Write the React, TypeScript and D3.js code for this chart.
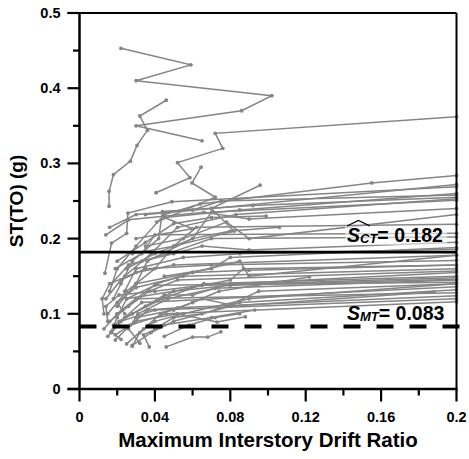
import React from "react";
import * as d3 from "d3";

// IDA curves: [drift ratio, ST(T0) in g]
const idaCurves: [number, number][][] = [
  [[0.022,0.453],[0.059,0.431],[0.030,0.410],[0.102,0.390],[0.086,0.370],[0.030,0.350],[0.065,0.330]],
  [[0.046,0.384],[0.032,0.363],[0.036,0.344],[0.0305,0.324],[0.027,0.303],[0.018,0.285],[0.0157,0.263],[0.0157,0.243]],
  [[0.0406,0.261],[0.0586,0.281],[0.052,0.301],[0.076,0.320],[0.072,0.340],[0.2,0.362]],
  [[0.041,0.222],[0.072,0.255],[0.0597,0.274],[0.0645,0.295]],
  [[0.035,0.232],[0.070,0.240],[0.0958,0.271]],
  [[0.0135,0.154],[0.017,0.194],[0.025,0.207],[0.0257,0.234],[0.049,0.249],[0.2,0.269]],
  [[0.016,0.13],[0.02,0.16],[0.03,0.19],[0.045,0.232],[0.064,0.246],[0.155,0.274],[0.2,0.284]],
  [[0.018,0.12],[0.024,0.15],[0.038,0.18],[0.052,0.215],[0.083,0.232],[0.2,0.253]],
  [[0.02,0.11],[0.03,0.14],[0.036,0.17],[0.06,0.2],[0.07,0.235],[0.2,0.251]],
  [[0.022,0.14],[0.028,0.17],[0.042,0.2],[0.044,0.236],[0.092,0.244],[0.2,0.255]],
  [[0.015,0.1],[0.025,0.13],[0.04,0.16],[0.05,0.19],[0.062,0.215],[0.2,0.219]],
  [[0.019,0.16],[0.033,0.18],[0.04,0.205],[0.2,0.207]],
  [[0.017,0.14],[0.026,0.165],[0.047,0.18],[0.07,0.2],[0.2,0.202]],
  [[0.024,0.13],[0.03,0.16],[0.055,0.175],[0.085,0.18],[0.2,0.186]],
  [[0.014,0.12],[0.022,0.145],[0.035,0.16],[0.07,0.165],[0.2,0.171]],
  [[0.02,0.10],[0.03,0.12],[0.041,0.14],[0.06,0.155],[0.09,0.158],[0.2,0.165]],
  [[0.016,0.09],[0.026,0.11],[0.037,0.13],[0.052,0.145],[0.2,0.157]],
  [[0.018,0.085],[0.028,0.1],[0.044,0.12],[0.066,0.14],[0.2,0.15]],
  [[0.021,0.09],[0.035,0.11],[0.05,0.13],[0.08,0.138],[0.2,0.146]],
  [[0.017,0.075],[0.024,0.095],[0.033,0.115],[0.2,0.136]],
  [[0.013,0.08],[0.02,0.1],[0.03,0.12],[0.2,0.128]],
  [[0.015,0.07],[0.022,0.09],[0.04,0.105],[0.2,0.12]],
  [[0.019,0.065],[0.027,0.085],[0.046,0.1],[0.2,0.116]],
  [[0.025,0.06],[0.034,0.08],[0.043,0.1],[0.06,0.115],[0.074,0.13],[0.122,0.149]],
  [[0.028,0.058],[0.038,0.075],[0.05,0.09],[0.08,0.11],[0.188,0.129]],
  [[0.046,0.056],[0.06,0.069],[0.068,0.069],[0.075,0.076]],
  [[0.022,0.066],[0.0167,0.076],[0.02,0.095],[0.025,0.12],[0.04,0.138],[0.2,0.142]],
  [[0.028,0.057],[0.032,0.075],[0.04,0.09],[0.055,0.1],[0.09,0.12],[0.2,0.14]],
  [[0.037,0.056],[0.034,0.072],[0.045,0.085],[0.07,0.095],[0.093,0.105]],
  [[0.032,0.061],[0.026,0.08],[0.031,0.1],[0.047,0.12],[0.072,0.134],[0.2,0.145]],
  [[0.02,0.17],[0.035,0.195],[0.05,0.22],[0.07,0.228],[0.099,0.23]],
  [[0.025,0.16],[0.04,0.18],[0.06,0.2],[0.08,0.21],[0.106,0.215]],
  [[0.019,0.072],[0.03,0.09],[0.052,0.1],[0.073,0.089],[0.088,0.096]],
  [[0.03,0.2],[0.06,0.213],[0.045,0.228],[0.085,0.238],[0.2,0.26]],
  [[0.035,0.19],[0.055,0.2],[0.078,0.222],[0.09,0.2],[0.2,0.232]],
  [[0.028,0.18],[0.05,0.19],[0.082,0.21],[0.07,0.24],[0.2,0.272]],
  [[0.03,0.14],[0.06,0.155],[0.085,0.17],[0.09,0.15],[0.2,0.178]],
  [[0.025,0.12],[0.05,0.13],[0.08,0.145],[0.087,0.16],[0.2,0.165]],
  [[0.013,0.1],[0.012,0.12],[0.016,0.14],[0.03,0.155],[0.05,0.165],[0.2,0.178]],
  [[0.015,0.09],[0.014,0.11],[0.021,0.125],[0.04,0.13],[0.065,0.138],[0.2,0.148]],
  [[0.024,0.1],[0.02,0.115],[0.03,0.135],[0.055,0.15],[0.2,0.16]],
  [[0.035,0.11],[0.045,0.125],[0.06,0.125],[0.08,0.14],[0.2,0.155]],
  [[0.04,0.08],[0.05,0.095],[0.065,0.1],[0.085,0.115],[0.2,0.132]],
  [[0.029,0.088],[0.036,0.105],[0.052,0.108],[0.2,0.124]],
  [[0.014,0.205],[0.026,0.225],[0.066,0.235],[0.09,0.226],[0.2,0.24]],
  [[0.03,0.095],[0.05,0.105],[0.065,0.12],[0.08,0.112],[0.095,0.13],[0.2,0.14]],
  [[0.045,0.07],[0.058,0.085],[0.072,0.095],[0.085,0.1]],
  [[0.016,0.215],[0.03,0.232],[0.06,0.238],[0.075,0.25],[0.2,0.258]],
  [[0.033,0.17],[0.05,0.18],[0.065,0.19],[0.09,0.185],[0.2,0.195]],
  [[0.045,0.15],[0.07,0.16],[0.08,0.175],[0.2,0.188]],
];

const xTicksMajor = [0, 0.04, 0.08, 0.12, 0.16, 0.2];
const xTickLabels = ["0", "0.04", "0.08", "0.12", "0.16", "0.2"];
const xTicksMinor = [0.02, 0.06, 0.1, 0.14, 0.18];
const yTicksMajor = [0, 0.1, 0.2, 0.3, 0.4, 0.5];
const yTickLabels = ["0", "0.1", "0.2", "0.3", "0.4", "0.5"];
const yTicksMinor = [0.05, 0.15, 0.25, 0.35, 0.45];
const sctValue = 0.182;
const smtValue = 0.083;

const FONT = "'Liberation Sans', Arial, Helvetica, sans-serif";

export default function App() {
  const W = 469, H = 459;
  const L = 79.5, R = 456.5, T = 13, B = 389;
  const x = d3.scaleLinear().domain([0, 0.2]).range([L, R]);
  const y = d3.scaleLinear().domain([0, 0.5]).range([B, T]);
  const line = d3.line<[number, number]>().x(d => x(d[0])).y(d => y(d[1]));
  const gray = "#858585";

  return (
    <svg width={W} height={H} style={{ position: "absolute", left: 0, top: 0 }} fontFamily={FONT}>
      <rect width={W} height={H} fill="#fff" />
      <g>
        {idaCurves.map((c, i) => (
          <path key={i} d={line(c) || ""} fill="none" stroke={gray} strokeWidth={1.5} />
        ))}
        {idaCurves.map((c, i) =>
          c.map((p, j) => (
            <circle key={i + "-" + j} cx={x(p[0])} cy={y(p[1])} r={1.9} fill={gray} />
          ))
        )}
      </g>
      <line x1={L} x2={R} y1={y(sctValue)} y2={y(sctValue)} stroke="#000" strokeWidth={2.6} />
      <line x1={L} x2={R + 4} y1={y(smtValue)} y2={y(smtValue)} stroke="#000" strokeWidth={4} strokeDasharray="17 16" />
      <rect x={345} y={226} width={102} height={19} fill="#fff" opacity={0.55} />
      <path d="M347,226 L358.5,220.5 L370,226" fill="none" stroke="#000" strokeWidth={1.2} />
      <text x={347} y={242} fontWeight="bold" fontSize={19.5} fill="#000">
        <tspan fontStyle="italic">S</tspan>
        <tspan fontStyle="italic" fontSize={13} dy={1}>CT</tspan>
        <tspan dy={-1}>= 0.182</tspan>
      </text>
      <text x={347} y={320} fontWeight="bold" fontSize={19.5} fill="#000">
        <tspan fontStyle="italic">S</tspan>
        <tspan fontStyle="italic" fontSize={13} dy={1}>MT</tspan>
        <tspan dy={-1}>= 0.083</tspan>
      </text>
      <line x1={L - 12} x2={R} y1={T} y2={T} stroke="#000" strokeWidth={2} />
      <line x1={R} x2={R} y1={T} y2={B} stroke="#000" strokeWidth={2} />
      <line x1={L} x2={L} y1={T} y2={B + 1} stroke="#000" strokeWidth={2.5} />
      <line x1={L - 12} x2={R + 1} y1={B} y2={B} stroke="#000" strokeWidth={2.5} />
      {yTicksMajor.map((v, i) => (
        <g key={"ym" + i}>
          <line x1={L - 12} x2={L} y1={y(v)} y2={y(v)} stroke="#000" strokeWidth={2.2} />
          <text x={60.5} y={y(v) + 5} textAnchor="end" fontWeight="bold" fontSize={14.5}>{yTickLabels[i]}</text>
        </g>
      ))}
      {yTicksMinor.map((v, i) => (
        <line key={"yn" + i} x1={L - 6.5} x2={L} y1={y(v)} y2={y(v)} stroke="#000" strokeWidth={2.2} />
      ))}
      {xTicksMajor.map((v, i) => (
        <g key={"xm" + i}>
          <line x1={x(v)} x2={x(v)} y1={B} y2={B + 12.5} stroke="#000" strokeWidth={2.2} />
          <text x={x(v)} y={422} textAnchor="middle" fontWeight="bold" fontSize={14.5}>{xTickLabels[i]}</text>
        </g>
      ))}
      {xTicksMinor.map((v, i) => (
        <line key={"xn" + i} x1={x(v)} x2={x(v)} y1={B} y2={B + 6.5} stroke="#000" strokeWidth={2.2} />
      ))}
      <text x={(L + R) / 2} y={446.5} textAnchor="middle" fontWeight="bold" fontSize={20.5}>
        Maximum Interstory Drift Ratio
      </text>
      <text transform={`translate(23,201) rotate(-90)`} textAnchor="middle" fontWeight="bold" fontSize={19}>
        ST(TO) (g)
      </text>
    </svg>
  );
}
